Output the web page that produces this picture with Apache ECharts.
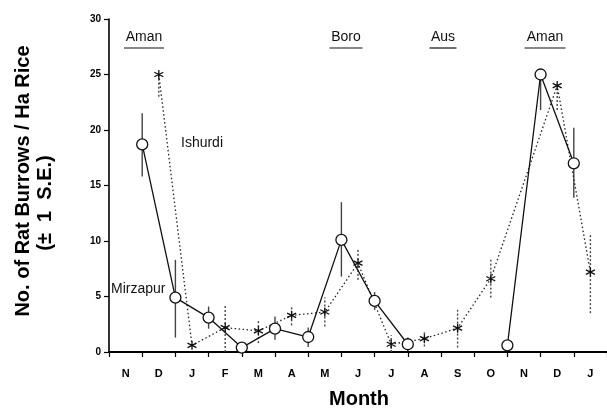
<!DOCTYPE html>
<html>
<head>
<meta charset="utf-8">
<script src="https://cdn.jsdelivr.net/npm/echarts@6/dist/echarts.min.js"></script>
<style>
  html, body { margin: 0; padding: 0; background: #fff; }
  #chart { width: 607px; height: 409px; }
</style>
</head>
<body>
<div id="chart"></div>
<script>
// Month labels along the bottom (Nov through the following Jan)
const monthLabels = ['N', 'D', 'J', 'F', 'M', 'A', 'M', 'J', 'J', 'A', 'S', 'O', 'N', 'D', 'J'];

// Mirzapur: position in months from start of first Nov, mean burrows, S.E. bar ends
const mirzapurX    = [1,    2,   3,   4,   5,   6,    7,    8,   9,   null, 12,  13,   14];
const mirzapurY    = [18.7, 4.9, 3.1, 0.4, 2.1, 1.35, 10.1, 4.6, 0.7, null, 0.6, 25.0, 17.0];
const mirzapurLow  = [15.8, 1.3, 2.1, 0.1, 1.1, 0.45, 6.8,  3.8, 0.1, null, 0.6, 21.8, 13.9];
const mirzapurHigh = [21.5, 8.3, 4.1, 0.8, 3.2, 2.2,  13.5, 5.4, 1.3, null, 0.6, 25.0, 20.2];

// Ishurdi: position, mean burrows, S.E. bar ends
const ishurdiX    = [1.5,  2.5, 3.5, 4.5, 5.5, 6.5, 7.5, 8.5, 9.5, 10.5, 11.5, 13.5, 14.5];
const ishurdiY    = [25.0, 0.6, 2.2, 1.9, 3.3, 3.6, 8.0, 0.7, 1.2, 2.15, 6.6,  24.0, 7.2];
const ishurdiLow  = [23.0, 0.6, 0.0, 0.8, 2.4, 2.3, 6.5, 0.0, 0.5, 0.4,  4.9,  21.8, 3.5];
const ishurdiHigh = [25.0, 0.6, 4.2, 2.9, 4.2, 4.9, 9.4, 1.5, 1.8, 3.8,  8.3,  24.0, 10.7];

// Cropping seasons marked above the plot
const seasonNames = ['Aman', 'Boro', 'Aus', 'Aman'];

const yTicks = [0, 5, 10, 15, 20, 25, 30];

const font = '"Liberation Sans", Arial, Helvetica, sans-serif';

function pairs(xs, ys) {
  return xs.map((x, i) => (x === null ? ['-', '-'] : [x, ys[i]]));
}
function bars(xs, lo, hi) {
  const out = [];
  xs.forEach((x, i) => { if (x !== null && hi[i] > lo[i]) out.push([x, lo[i], hi[i]]); });
  return out;
}

function errorBarSeries(data, dashed) {
  return {
    type: 'custom',
    xAxisIndex: 0,
    yAxisIndex: 0,
    z: 1,
    silent: true,
    data: data,
    renderItem: function (params, api) {
      const a = api.coord([api.value(0), api.value(1)]);
      const b = api.coord([api.value(0), api.value(2)]);
      return {
        type: 'line',
        shape: { x1: a[0], y1: a[1], x2: b[0], y2: b[1] },
        style: { stroke: '#444', lineWidth: 1.4, lineDash: dashed ? [2, 2] : null }
      };
    }
  };
}

const starPath = 'path://M0,-5L0,5M-4.3,-2.5L4.3,2.5M-4.3,2.5L4.3,-2.5';

const chart = echarts.init(document.getElementById('chart'), null, { renderer: 'canvas' });

const grid = { left: 109, right: -4, top: 19, bottom: 57 };

// Season labels with underlines, positioned over the months they span
const seasonCenters = [144, 346, 443, 545];
const seasonWidths = [40, 33, 27, 41];
const seasonGraphics = [];
seasonNames.forEach((name, i) => {
  seasonGraphics.push({
    type: 'text', x: seasonCenters[i], y: 37,
    style: { text: name, font: '14px ' + font, fill: '#111', align: 'center', verticalAlign: 'middle' }
  });
  seasonGraphics.push({
    type: 'line',
    shape: { x1: seasonCenters[i] - seasonWidths[i] / 2, y1: 48, x2: seasonCenters[i] + seasonWidths[i] / 2, y2: 48 },
    style: { stroke: '#111', lineWidth: 1.2 }
  });
});

chart.setOption({
  animation: false,
  backgroundColor: '#fff',
  grid: grid,
  xAxis: [
    {
      type: 'value', min: 0, max: 15, interval: 1,
      axisLine: { show: true, lineStyle: { color: '#000', width: 2 } },
      axisTick: { show: true, inside: false, length: 5, lineStyle: { color: '#000', width: 1.2 } },
      axisLabel: { show: false },
      splitLine: { show: false }
    },
    {
      type: 'category', position: 'bottom', data: monthLabels, boundaryGap: true,
      axisLine: { show: false }, axisTick: { show: false }, splitLine: { show: false },
      axisLabel: { color: '#000', fontWeight: 'bold', fontSize: 11, fontFamily: font, margin: 16, interval: 0 }
    }
  ],
  yAxis: {
    type: 'value', min: yTicks[0], max: yTicks[yTicks.length - 1], interval: 5,
    axisLine: { show: true, lineStyle: { color: '#000', width: 1.6 } },
    axisTick: { show: true, inside: false, length: 5, lineStyle: { color: '#000', width: 1.2 } },
    axisLabel: { color: '#000', fontWeight: 'bold', fontSize: 10, fontFamily: font, margin: 8 },
    splitLine: { show: false }
  },
  series: [
    errorBarSeries(bars(mirzapurX, mirzapurLow, mirzapurHigh), false),
    errorBarSeries(bars(ishurdiX, ishurdiLow, ishurdiHigh), true),
    {
      name: 'Mirzapur', type: 'line', xAxisIndex: 0, z: 3,
      data: pairs(mirzapurX, mirzapurY),
      connectNulls: false,
      lineStyle: { color: '#111', width: 1.3 },
      symbol: 'circle', symbolSize: 11,
      itemStyle: { color: '#fff', borderColor: '#111', borderWidth: 1.3 }
    },
    {
      name: 'Ishurdi', type: 'line', xAxisIndex: 0, z: 2,
      data: pairs(ishurdiX, ishurdiY),
      lineStyle: { color: '#222', width: 1.3, type: [1.5, 2.5] },
      symbol: starPath, symbolSize: 9,
      itemStyle: { color: '#111', borderColor: '#111', borderWidth: 1.3 }
    }
  ],
  graphic: seasonGraphics.concat([
    {
      type: 'text', x: 181, y: 143,
      style: { text: 'Ishurdi', font: '14px ' + font, fill: '#111', align: 'left', verticalAlign: 'middle' }
    },
    {
      type: 'text', x: 111, y: 289,
      style: { text: 'Mirzapur', font: '14px ' + font, fill: '#111', align: 'left', verticalAlign: 'middle' }
    },
    {
      type: 'text', x: 23, y: 181, rotation: Math.PI / 2,
      style: { text: 'No. of Rat Burrows / Ha Rice', font: 'bold 20px ' + font, fill: '#000', align: 'center', verticalAlign: 'middle' }
    },
    {
      type: 'text', x: 45, y: 203, rotation: Math.PI / 2,
      style: { text: '(\u00B1  1  S.E.)', font: 'bold 20px ' + font, fill: '#000', align: 'center', verticalAlign: 'middle' }
    },
    {
      type: 'text', x: 359, y: 399,
      style: { text: 'Month', font: 'bold 20px ' + font, fill: '#000', align: 'center', verticalAlign: 'middle' }
    }
  ])
});
</script>
</body>
</html>
